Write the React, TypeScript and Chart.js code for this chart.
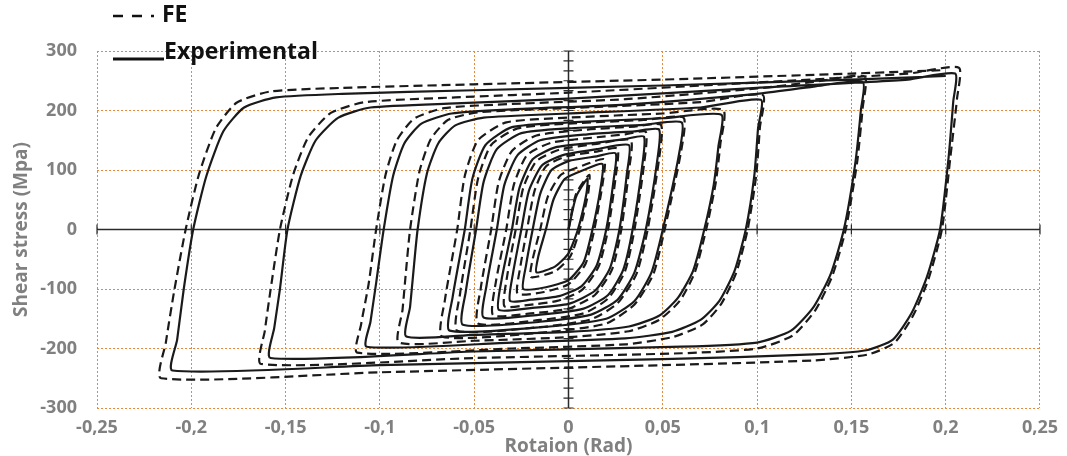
import React, { useEffect, useRef } from "react";
import { Chart, registerables } from "chart.js";

Chart.register(...registerables);

const xTickLabels = ["-0,25", "-0,2", "-0,15", "-0,1", "-0,05", "0", "0,05", "0,1", "0,15", "0,2", "0,25"];
const yTickLabels = ["-300", "-200", "-100", "0", "100", "200", "300"];
const xAxisTitle = "Rotaion (Rad)";
const yAxisTitle = "Shear stress (Mpa)";
const feLabel = "FE";
const expLabel = "Experimental";

// Experimental hysteresis path (rotation, shear stress)
const experimentalPoints: [number, number][] = [
  [0, 0], [0.004, 55], [0.010, 85],
  [0.0095, 60], [0.005, 0], [0.0, -40], [-0.007, -62], [-0.017, -72],
  [-0.016, -45], [-0.012, 0], [-0.008, 50], [-0.002, 85], [0.008, 100],
  [0.018, 110], [0.017, 70], [0.0127, 0], [0.008, -55], [0.0, -85], [-0.012, -97], [-0.024, -100],
  [-0.0225, -60], [-0.019, 0], [-0.015, 60], [-0.009, 100], [0.0, 115], [0.015, 123],
  [0.025, 128], [0.024, 85], [0.020, 0], [0.015, -60], [0.007, -95], [-0.005, -112], [-0.02, -118], [-0.031, -120],
  [-0.0295, -75], [-0.025, 0], [-0.021, 65], [-0.014, 108], [-0.003, 125], [0.015, 135],
  [0.032, 142], [0.031, 95], [0.027, 0], [0.022, -65], [0.014, -103], [0.0, -125], [-0.02, -132], [-0.037, -135],
  [-0.0355, -85], [-0.030, 0], [-0.026, 70], [-0.019, 118], [-0.007, 138], [0.015, 146], [0.03, 152],
  [0.040, 156], [0.039, 105], [0.034, 0], [0.029, -68], [0.021, -110], [0.008, -133], [-0.015, -143], [-0.045, -148],
  [-0.0435, -95], [-0.038, 0], [-0.034, 75], [-0.027, 125], [-0.015, 150], [0.01, 160], [0.035, 165],
  [0.048, 168], [0.047, 115], [0.041, 0], [0.035, -72], [0.026, -118], [0.012, -143], [-0.015, -155], [-0.056, -160],
  [-0.0545, -105], [-0.049, 0], [-0.045, 80], [-0.038, 135], [-0.025, 162], [0.0, 170], [0.04, 176],
  [0.060, 180], [0.0585, 125], [0.050, 0], [0.044, -72], [0.035, -120], [0.02, -150], [-0.01, -163], [-0.063, -170],
  [-0.0615, -115], [-0.055, 0], [-0.051, 85], [-0.044, 142], [-0.03, 172], [0.0, 180], [0.05, 187],
  [0.081, 193], [0.0795, 140], [0.077, 75], [0.072, 0], [0.066, -70], [0.058, -115], [0.048, -145], [0.032, -163], [0.0, -172], [-0.05, -177], [-0.086, -180],
  [-0.084, -130], [-0.0825, -80], [-0.080, 0], [-0.075, 95], [-0.069, 145], [-0.06, 175], [-0.045, 188], [0.0, 195], [0.07, 205],
  [0.102, 218], [0.1005, 170], [0.0985, 90], [0.094, 0], [0.088, -70], [0.080, -120], [0.070, -152], [0.055, -172], [0.03, -183], [-0.03, -190], [-0.107, -197],
  [-0.105, -155], [-0.102, -90], [-0.098, 0], [-0.093, 90], [-0.087, 145], [-0.078, 178], [-0.062, 195], [-0.03, 202], [0.03, 210], [0.1, 228], [0.13, 240],
  [0.156, 248], [0.155, 200], [0.152, 110], [0.146, 0], [0.139, -75], [0.130, -130], [0.118, -170], [0.1, -190], [0.06, -197], [-0.05, -205], [-0.158, -216],
  [-0.156, -165], [-0.153, -100], [-0.149, 0], [-0.142, 90], [-0.134, 150], [-0.122, 188], [-0.105, 205], [-0.06, 212], [0.0, 220], [0.1, 238], [0.18, 252],
  [0.205, 262], [0.204, 215], [0.2015, 120], [0.197, 0], [0.19, -80], [0.182, -140], [0.172, -185], [0.158, -203], [0.13, -210], [0.05, -218], [-0.1, -228], [-0.21, -237],
  [-0.2075, -185], [-0.204, -100], [-0.199, 0], [-0.192, 90], [-0.183, 165], [-0.172, 205], [-0.155, 222], [-0.12, 228], [-0.05, 234], [0.05, 242], [0.15, 252], [0.2, 258],
];

// FE hysteresis path (rotation, shear stress)
const fePoints: [number, number][] = [
  [0, 0], [0.004, 60], [0.011, 92],
  [0.0105, 62], [0.006, 0], [0.001, -45], [-0.007, -70], [-0.02, -80],
  [-0.019, -50], [-0.015, 0], [-0.011, 55], [-0.004, 92], [0.008, 108],
  [0.019, 118], [0.018, 75], [0.0137, 0], [0.009, -58], [0.0, -92], [-0.013, -105], [-0.027, -108],
  [-0.0255, -62], [-0.022, 0], [-0.018, 65], [-0.012, 106], [-0.001, 123], [0.015, 131],
  [0.026, 136], [0.025, 88], [0.021, 0], [0.016, -62], [0.007, -102], [-0.006, -120], [-0.022, -127], [-0.034, -129],
  [-0.0325, -78], [-0.028, 0], [-0.024, 70], [-0.017, 115], [-0.005, 134], [0.015, 144],
  [0.033, 150], [0.032, 98], [0.028, 0], [0.023, -68], [0.014, -110], [0.0, -133], [-0.02, -141], [-0.040, -144],
  [-0.0385, -88], [-0.033, 0], [-0.029, 75], [-0.022, 125], [-0.009, 146], [0.015, 155], [0.03, 160],
  [0.041, 164], [0.040, 108], [0.035, 0], [0.030, -70], [0.021, -116], [0.008, -141], [-0.015, -152], [-0.048, -158],
  [-0.0465, -98], [-0.041, 0], [-0.037, 80], [-0.030, 132], [-0.017, 158], [0.01, 168], [0.035, 173],
  [0.049, 176], [0.048, 118], [0.042, 0], [0.036, -75], [0.026, -124], [0.012, -151], [-0.015, -164], [-0.059, -170],
  [-0.0575, -108], [-0.052, 0], [-0.048, 85], [-0.041, 142], [-0.027, 170], [0.0, 178], [0.04, 184],
  [0.061, 188], [0.0595, 128], [0.051, 0], [0.045, -75], [0.035, -126], [0.02, -158], [-0.01, -172], [-0.067, -180],
  [-0.0655, -118], [-0.059, 0], [-0.055, 90], [-0.048, 150], [-0.033, 180], [0.0, 188], [0.05, 195],
  [0.082, 201], [0.0805, 143], [0.078, 77], [0.073, 0], [0.067, -72], [0.059, -120], [0.048, -152], [0.032, -171], [0.0, -181], [-0.05, -187], [-0.090, -190],
  [-0.088, -135], [-0.0865, -82], [-0.084, 0], [-0.079, 98], [-0.073, 152], [-0.064, 184], [-0.048, 197], [0.0, 204], [0.07, 214],
  [0.103, 226], [0.1015, 172], [0.0995, 90], [0.095, 0], [0.089, -72], [0.081, -125], [0.071, -160], [0.055, -181], [0.03, -193], [-0.03, -200], [-0.112, -207],
  [-0.110, -160], [-0.106, -92], [-0.102, 0], [-0.097, 92], [-0.091, 150], [-0.082, 186], [-0.066, 204], [-0.03, 211], [0.03, 219], [0.1, 237], [0.13, 248],
  [0.157, 257], [0.156, 205], [0.153, 112], [0.147, 0], [0.140, -77], [0.131, -135], [0.119, -178], [0.1, -200], [0.06, -208], [-0.05, -216], [-0.163, -226],
  [-0.161, -170], [-0.158, -102], [-0.153, 0], [-0.146, 92], [-0.138, 155], [-0.126, 196], [-0.108, 214], [-0.06, 222], [0.0, 230], [0.1, 247], [0.18, 262],
  [0.207, 272], [0.206, 220], [0.2025, 122], [0.198, 0], [0.191, -82], [0.183, -143], [0.173, -190], [0.159, -210], [0.13, -220], [0.05, -228], [-0.1, -240], [-0.216, -250],
  [-0.2135, -190], [-0.209, -102], [-0.203, 0], [-0.196, 92], [-0.187, 170], [-0.176, 213], [-0.158, 232], [-0.12, 238], [-0.05, 244], [0.05, 252], [0.15, 262], [0.2, 268],
];

const FONT = '"Open Sans", "DejaVu Sans", sans-serif';
const GRID = "#e3893d";
const AXIS_GRAY = "#808080";
const INK = "#1a1a1a";

const zeroAxesPlugin = {
  id: "zeroAxes",
  beforeDatasetsDraw(chart: any) {
    const { ctx, chartArea, scales } = chart;
    const xs = scales.x;
    const ys = scales.y;
    const y0 = ys.getPixelForValue(0);
    const x0 = xs.getPixelForValue(0);
    ctx.save();
    ctx.strokeStyle = "#2a2a2a";
    ctx.lineWidth = 1.5;
    ctx.setLineDash([]);
    ctx.beginPath();
    ctx.moveTo(chartArea.left, y0);
    ctx.lineTo(chartArea.right, y0);
    ctx.moveTo(x0, chartArea.top);
    ctx.lineTo(x0, chartArea.bottom);
    ctx.stroke();
    ctx.lineWidth = 1.2;
    ctx.beginPath();
    xs.ticks.forEach((t: any) => {
      const px = xs.getPixelForValue(t.value);
      ctx.moveTo(px, y0 - 5);
      ctx.lineTo(px, y0 + 5);
    });
    const n = 36;
    for (let i = 0; i <= n; i++) {
      const py = chartArea.top + ((chartArea.bottom - chartArea.top) * i) / n;
      ctx.moveTo(x0 - 5, py);
      ctx.lineTo(x0 + 5, py);
    }
    ctx.stroke();
    ctx.restore();
  },
};

const legendPlugin = {
  id: "customLegend",
  afterDraw(chart: any) {
    const { ctx } = chart;
    ctx.save();
    ctx.strokeStyle = "#111";
    ctx.fillStyle = "#111";
    // FE
    ctx.lineWidth = 2.5;
    ctx.setLineDash([10, 9, 10, 9, 3, 200]);
    ctx.beginPath();
    ctx.moveTo(113, 16);
    ctx.lineTo(160, 16);
    ctx.stroke();
    ctx.setLineDash([]);
    ctx.font = `bold 23px ${FONT}`;
    ctx.textBaseline = "middle";
    ctx.textAlign = "left";
    ctx.fillText(feLabel, 162, 15);
    // Experimental
    ctx.lineWidth = 3;
    ctx.beginPath();
    ctx.moveTo(113, 59);
    ctx.lineTo(164, 59);
    ctx.stroke();
    ctx.fillText(expLabel, 164, 52);
    ctx.restore();
  },
};

export default function App() {
  const canvasRef = useRef<HTMLCanvasElement | null>(null);

  useEffect(() => {
    if (!canvasRef.current) return;
    const chart = new Chart(canvasRef.current, {
      type: "scatter",
      data: {
        datasets: [
          {
            label: expLabel,
            data: experimentalPoints.map(([x, y]) => ({ x, y })),
            showLine: true,
            borderColor: INK,
            borderWidth: 2.2,
            pointRadius: 0,
            tension: 0.2,
            fill: false,
          },
          {
            label: feLabel,
            data: fePoints.map(([x, y]) => ({ x, y })),
            showLine: true,
            borderColor: INK,
            borderWidth: 2.2,
            borderDash: [9, 5],
            pointRadius: 0,
            tension: 0.2,
            fill: false,
          },
        ],
      },
      options: {
        animation: false,
        responsive: false,
        layout: { padding: { top: 51, right: 26, left: 0, bottom: 0 } },
        plugins: {
          legend: { display: false },
          tooltip: { enabled: false },
        },
        scales: {
          x: {
            type: "linear",
            min: -0.25,
            max: 0.25,
            ticks: {
              stepSize: 0.05,
              autoSkip: false,
              maxRotation: 0,
              padding: 9,
              color: AXIS_GRAY,
              font: { family: FONT, size: 18, weight: "bold" },
              callback: (_v: any, i: number) => xTickLabels[i],
            },
            grid: { color: GRID, lineWidth: 1, drawTicks: false },
            border: { display: false, dash: [2, 2] },
            title: {
              display: true,
              text: xAxisTitle,
              color: AXIS_GRAY,
              font: { family: FONT, size: 19, weight: "bold", lineHeight: 1 },
              padding: { top: 0, bottom: 0 },
            },
            afterFit: (s: any) => {
              s.height = 48;
            },
          },
          y: {
            type: "linear",
            min: -300,
            max: 300,
            ticks: {
              stepSize: 100,
              padding: 20,
              color: AXIS_GRAY,
              font: { family: FONT, size: 18, weight: "bold" },
              callback: (_v: any, i: number) => yTickLabels[i],
            },
            grid: { color: GRID, lineWidth: 1, drawTicks: false },
            border: { display: false, dash: [2, 2] },
            title: {
              display: true,
              text: yAxisTitle,
              color: AXIS_GRAY,
              font: { family: FONT, size: 19, weight: "bold", lineHeight: 1.2 },
              padding: { top: 10, bottom: 0 },
            },
            afterFit: (s: any) => {
              s.width = 97;
            },
          },
        },
      },
      plugins: [zeroAxesPlugin, legendPlugin],
    } as any);
    return () => chart.destroy();
  }, []);

  return (
    <div style={{ position: "absolute", left: 0, top: 0, width: 1067, height: 456, background: "#fff" }}>
      <canvas ref={canvasRef} width={1067} height={456} />
    </div>
  );
}
